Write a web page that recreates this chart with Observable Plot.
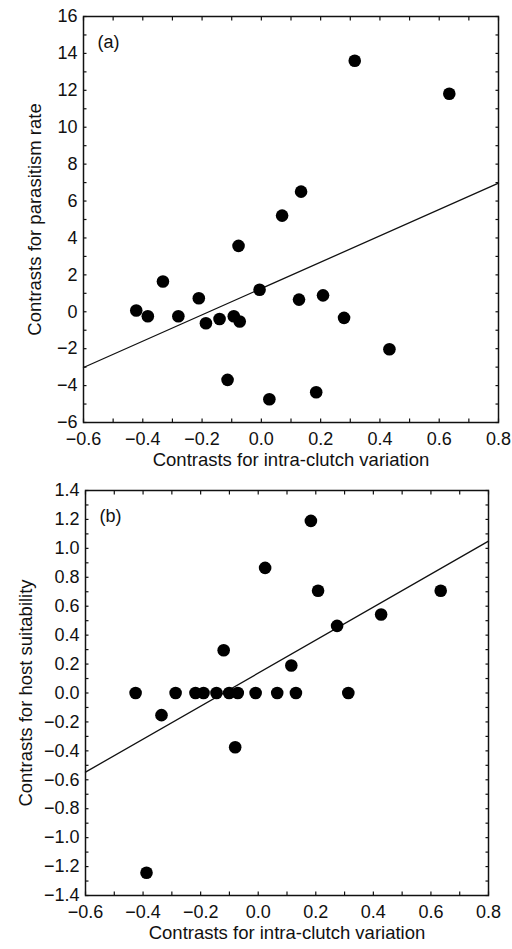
<!DOCTYPE html>
<html>
<head>
<meta charset="utf-8">
<script src="https://cdn.jsdelivr.net/npm/d3@7"></script>
<script src="https://cdn.jsdelivr.net/npm/@observablehq/plot@0.6"></script>
<style>
  html, body { margin: 0; padding: 0; background: #fff; }
  #chart svg { display: block; }
</style>
</head>
<body>
<div id="chart"></div>
<script>
// Panel (a): contrasts for parasitism rate vs intra-clutch variation
const aX = [0.315, 0.634, 0.134, 0.070, -0.077, -0.332, -0.211, -0.006, -0.422, -0.383, -0.280, -0.187, -0.141, -0.093, -0.073, 0.127, 0.208, 0.279, 0.432, -0.114, 0.027, 0.185];
const aY = [13.6, 11.81, 6.51, 5.21, 3.57, 1.64, 0.73, 1.19, 0.07, -0.24, -0.24, -0.62, -0.39, -0.24, -0.53, 0.66, 0.89, -0.33, -2.03, -3.69, -4.74, -4.36];
const aLineX = [-0.6, 0.8];
const aLineY = [-3.02, 6.97];

// Panel (b): contrasts for host suitability vs intra-clutch variation
const bX = [0.183, 0.024, 0.208, 0.634, 0.427, 0.274, -0.120, 0.115,
            -0.426, -0.287, -0.218, -0.190, -0.145, -0.101, -0.071, -0.009, 0.066, 0.131, 0.313,
            -0.336, -0.080, -0.388];
const bY = [1.19, 0.865, 0.707, 0.707, 0.543, 0.464, 0.296, 0.19,
            0, 0, 0, 0, 0, 0, 0, 0, 0, 0, 0,
            -0.153, -0.375, -1.243];
const bLineX = [-0.6, 0.8];
const bLineY = [-0.547, 1.05];

// Axes
const xDomain = [-0.6, 0.8];
const xTicks = [-0.6, -0.4, -0.2, 0.0, 0.2, 0.4, 0.6, 0.8];
const xMinor = d3.range(-6, 9).map(i => i / 10);
const aDomain = [-6, 16];
const aTicks = [-6, -4, -2, 0, 2, 4, 6, 8, 10, 12, 14, 16];
const aMinor = d3.range(-6, 17);
const bDomain = [-1.4, 1.4];
const bTicks = d3.range(-14, 15, 2).map(i => i / 10);
const bMinor = d3.range(-14, 15).map(i => i / 10);

const xLabel = "Contrasts for intra-clutch variation";
const aLabel = "Contrasts for parasitism rate";
const bLabel = "Contrasts for host suitability";
const panelLetters = ["(a)", "(b)"];

const FONT = "'Liberation Sans', Arial, Helvetica, sans-serif";
const blank = () => "";

function panel({xs, ys, lx, ly, yDomain, yTicks, yMinor, yFmt, yLabel, letter, height, margins, yLabelDx}) {
  const pts = xs.map((x, i) => ({x, y: ys[i]}));
  const line = lx.map((x, i) => ({x, y: ly[i]}));
  return Plot.plot({
    width: 512,
    height,
    ...margins,
    style: {fontFamily: FONT, fontSize: "18px", color: "#111", background: "white"},
    x: {domain: xDomain},
    y: {domain: yDomain},
    marks: [
      // inward ticks on all four sides
      Plot.axisX({anchor: "bottom", ticks: xMinor, tickSize: -3.5, tickFormat: blank, label: null, strokeWidth: 1.2}),
      Plot.axisX({anchor: "top", ticks: xMinor, tickSize: -3.5, tickFormat: blank, label: null, strokeWidth: 1.2}),
      Plot.axisY({anchor: "left", ticks: yMinor, tickSize: -3.5, tickFormat: blank, label: null, strokeWidth: 1.2}),
      Plot.axisY({anchor: "right", ticks: yMinor, tickSize: -3.5, tickFormat: blank, label: null, strokeWidth: 1.2}),
      // tick labels
      Plot.axisX({anchor: "bottom", ticks: xTicks, tickSize: 0, tickPadding: 10, tickFormat: d3.format(".1f"), label: null, fontSize: 18}),
      Plot.axisY({anchor: "left", ticks: yTicks, tickSize: 0, tickPadding: 6, tickFormat: yFmt, label: null, fontSize: 18}),
      Plot.frame({stroke: "#111", strokeWidth: 1.5}),
      Plot.line(line, {x: "x", y: "y", stroke: "#111", strokeWidth: 1.3}),
      Plot.dot(pts, {x: "x", y: "y", r: 6.3, fill: "#000", stroke: "none"}),
      Plot.text([letter], {frameAnchor: "top-left", dx: 14, dy: 26, text: d => d, textAnchor: "start", lineAnchor: "middle", fontSize: 18, fill: "#111"}),
      Plot.text([xLabel], {frameAnchor: "bottom", dy: 38, text: d => d, textAnchor: "middle", lineAnchor: "middle", fontSize: 18.5, fill: "#111"}),
      Plot.text([yLabel], {frameAnchor: "left", dx: yLabelDx, rotate: -90, text: d => d, textAnchor: "middle", lineAnchor: "middle", fontSize: 18.5, fill: "#111"})
    ]
  });
}

const chart = document.getElementById("chart");
chart.append(panel({
  xs: aX, ys: aY, lx: aLineX, ly: aLineY,
  yDomain: aDomain, yTicks: aTicks, yMinor: aMinor, yFmt: d3.format("d"),
  yLabel: aLabel, letter: panelLetters[0], height: 475,
  margins: {marginTop: 16, marginBottom: 53, marginLeft: 83, marginRight: 14},
  yLabelDx: -48
}));
chart.append(panel({
  xs: bX, ys: bY, lx: bLineX, ly: bLineY,
  yDomain: bDomain, yTicks: bTicks, yMinor: bMinor, yFmt: d3.format(".1f"),
  yLabel: bLabel, letter: panelLetters[1], height: 474,
  margins: {marginTop: 15, marginBottom: 54, marginLeft: 85, marginRight: 24},
  yLabelDx: -59
}));
</script>
</body>
</html>
